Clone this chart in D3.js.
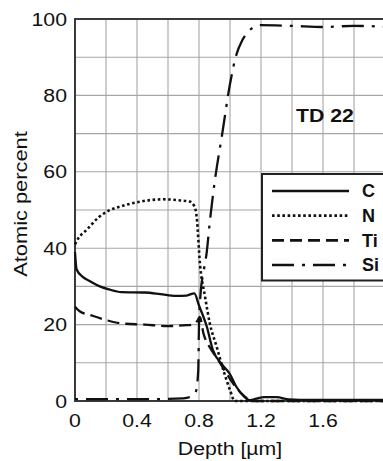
<!DOCTYPE html>
<html>
<head>
<meta charset="utf-8">
<script src="https://cdn.jsdelivr.net/npm/d3@7"></script>
<style>
  html, body { margin: 0; padding: 0; background: #fff; }
  svg { display: block; }
</style>
</head>
<body>
<svg id="chart" width="383" height="461"></svg>
<script>
// Profil głębokościowy TD 22 - skład atomowy w funkcji głębokości
const seriesNames = ["C", "N", "Ti", "Si"];

const depthC = [0, 0.01, 0.05, 0.1, 0.16, 0.22, 0.3, 0.45, 0.55, 0.65, 0.72, 0.77, 0.8, 0.85, 0.89, 0.95, 1.0, 1.04, 1.09, 1.13, 1.17, 1.22, 1.3, 1.38, 1.45, 2.0];
const valuesC = [39, 34.5, 32.5, 31.3, 30, 29.2, 28.5, 28.4, 28, 27.5, 27.6, 28.2, 25, 19.5, 13.3, 9.5, 7, 3.8, 1.2, 0.2, 0.6, 1, 1, 0.4, 0.3, 0.3];

const depthN = [0, 0.02, 0.075, 0.15, 0.226, 0.3, 0.42, 0.57, 0.68, 0.74, 0.77, 0.785, 0.806, 0.839, 0.87, 0.914, 0.957, 1.0, 1.03, 2.0];
const valuesN = [41, 42.5, 44.8, 48, 50, 51, 52.2, 52.8, 52.5, 52.2, 51, 48.2, 36, 27.3, 20.3, 14.2, 8.1, 2.9, 0, 0];

const depthTi = [0, 0.03, 0.1, 0.2, 0.3, 0.45, 0.6, 0.7, 0.76, 0.79, 0.805, 0.83, 0.87, 0.92, 0.98, 1.04, 1.1, 1.15, 2.0];
const valuesTi = [24.7, 23.5, 22.5, 21.2, 20.3, 20, 19.6, 19.8, 20, 21, 22, 17.5, 14, 11, 7, 3.5, 1, 0, 0];

const depthSi = [0, 0.5, 0.7, 0.75, 0.78, 0.795, 0.8, 0.81, 0.83, 0.85, 0.87, 0.9, 0.95, 1.0, 1.04, 1.08, 1.12, 1.16, 1.2, 1.4, 1.6, 1.8, 2.0];
const valuesSi = [0.5, 0.5, 0.7, 1.2, 2.5, 8, 20, 28, 34, 39, 47, 57, 70, 83, 90.5, 94.5, 96.8, 98, 98.4, 98.2, 97.9, 98.2, 98];

const xTickValues = [0, 0.4, 0.8, 1.2, 1.6];
const xTickLabels = ["0", "0.4", "0.8", "1.2", "1.6"];
const yTickValues = [0, 20, 40, 60, 80, 100];
const yTickLabels = ["0", "20", "40", "60", "80", "100"];

document.addEventListener("DOMContentLoaded", () => {
    const svg = d3.select("#chart");
    const FONT = "'Liberation Sans', Arial, Helvetica, sans-serif";
    const STRETCH = 1.15;

    // wykres jest przycięty z prawej strony - obszar sięga poza okno
    const x = d3.scaleLinear().domain([0, 2.0]).range([75, 385]);
    const y = d3.scaleLinear().domain([0, 100]).range([401, 19]);

    const series = [
        { name: "C",  depth: depthC,  values: valuesC,  dash: null },
        { name: "N",  depth: depthN,  values: valuesN,  dash: "2.6,2.6" },
        { name: "Ti", depth: depthTi, values: valuesTi, dash: "12,6" },
        { name: "Si", depth: depthSi, values: valuesSi, dash: "22,8,3,8" }
    ];

    // siatka
    const grid = svg.append("g").attr("stroke", "#a6a6a6").attr("stroke-width", 1.1);
    grid.selectAll("line.v")
        .data(d3.range(0, 11).map(i => i * 0.2))
        .join("line")
        .attr("class", "v")
        .attr("x1", d => x(d)).attr("x2", d => x(d))
        .attr("y1", y(0)).attr("y2", y(100));
    grid.selectAll("line.h")
        .data(d3.range(0, 11).map(i => i * 10))
        .join("line")
        .attr("class", "h")
        .attr("x1", x(0)).attr("x2", x(2.0))
        .attr("y1", d => y(d)).attr("y2", d => y(d));

    // ramka
    svg.append("rect")
        .attr("x", x(0)).attr("y", y(100))
        .attr("width", x(2.0) - x(0)).attr("height", y(0) - y(100))
        .attr("fill", "none")
        .attr("stroke", "#3a3a3a")
        .attr("stroke-width", 2);

    // krzywe
    const line = d3.line()
        .x(d => x(d[0]))
        .y(d => y(d[1]))
        .curve(d3.curveMonotoneX);

    svg.append("g")
        .selectAll("path")
        .data(series)
        .join("path")
        .attr("d", s => line(s.depth.map((dp, i) => [dp, s.values[i]])))
        .attr("fill", "none")
        .attr("stroke", "#111")
        .attr("stroke-width", s => s.name === "N" ? 2.6 : 2.3)
        .attr("stroke-dasharray", s => s.dash)
        .attr("stroke-dashoffset", s => s.name === "Si" ? 30 : 0)
        .attr("stroke-linejoin", "round");

    // etykiety osi Y
    svg.append("g")
        .selectAll("text")
        .data(yTickValues)
        .join("text")
        .attr("transform", d => `translate(${x(0) - 8},${y(d)}) scale(${STRETCH},1)`)
        .attr("dy", "0.36em")
        .attr("text-anchor", "end")
        .attr("font-family", FONT)
        .attr("font-size", 18.5)
        .attr("fill", "#111")
        .text((d, i) => yTickLabels[i]);

    // etykiety osi X
    svg.append("g")
        .selectAll("text")
        .data(xTickValues)
        .join("text")
        .attr("transform", d => `translate(${x(d)},${y(0) + 26}) scale(${STRETCH},1)`)
        .attr("text-anchor", "middle")
        .attr("font-family", FONT)
        .attr("font-size", 18.5)
        .attr("fill", "#111")
        .text((d, i) => xTickLabels[i]);

    svg.append("text")
        .attr("transform", `translate(230,455) scale(${STRETCH},1)`)
        .attr("text-anchor", "middle")
        .attr("font-family", FONT)
        .attr("font-size", 18.5)
        .attr("fill", "#111")
        .text("Depth [\u00b5m]");

    svg.append("text")
        .attr("transform", `translate(27,204) rotate(-90) scale(${STRETCH + 0.03},1)`)
        .attr("text-anchor", "middle")
        .attr("font-family", FONT)
        .attr("font-size", 18.5)
        .attr("fill", "#111")
        .text("Atomic percent");

    svg.append("text")
        .attr("transform", `translate(325,121.5) scale(${STRETCH},1)`)
        .attr("text-anchor", "middle")
        .attr("font-family", FONT)
        .attr("font-size", 18.5)
        .attr("font-weight", "bold")
        .attr("fill", "#111")
        .text("TD 22");

    // legenda
    const legend = svg.append("g").attr("transform", "translate(262,174)");
    legend.append("rect")
        .attr("width", 160).attr("height", 106.5)
        .attr("fill", "#fff")
        .attr("stroke", "#222")
        .attr("stroke-width", 2);

    const rowY = d3.scalePoint().domain(seriesNames).range([17, 91]);
    const rows = legend.selectAll("g.row")
        .data(series)
        .join("g")
        .attr("class", "row")
        .attr("transform", s => `translate(0,${rowY(s.name)})`);

    rows.append("line")
        .attr("x1", 10).attr("x2", 87)
        .attr("stroke", "#111")
        .attr("stroke-width", s => s.name === "N" ? 2.8 : 2.6)
        .attr("stroke-dasharray", s => s.dash);

    rows.append("text")
        .attr("x", 100)
        .attr("dy", "0.36em")
        .attr("font-family", FONT)
        .attr("font-size", 18)
        .attr("font-weight", "bold")
        .attr("fill", "#111")
        .text(s => s.name);
});
</script>
</body>
</html>
